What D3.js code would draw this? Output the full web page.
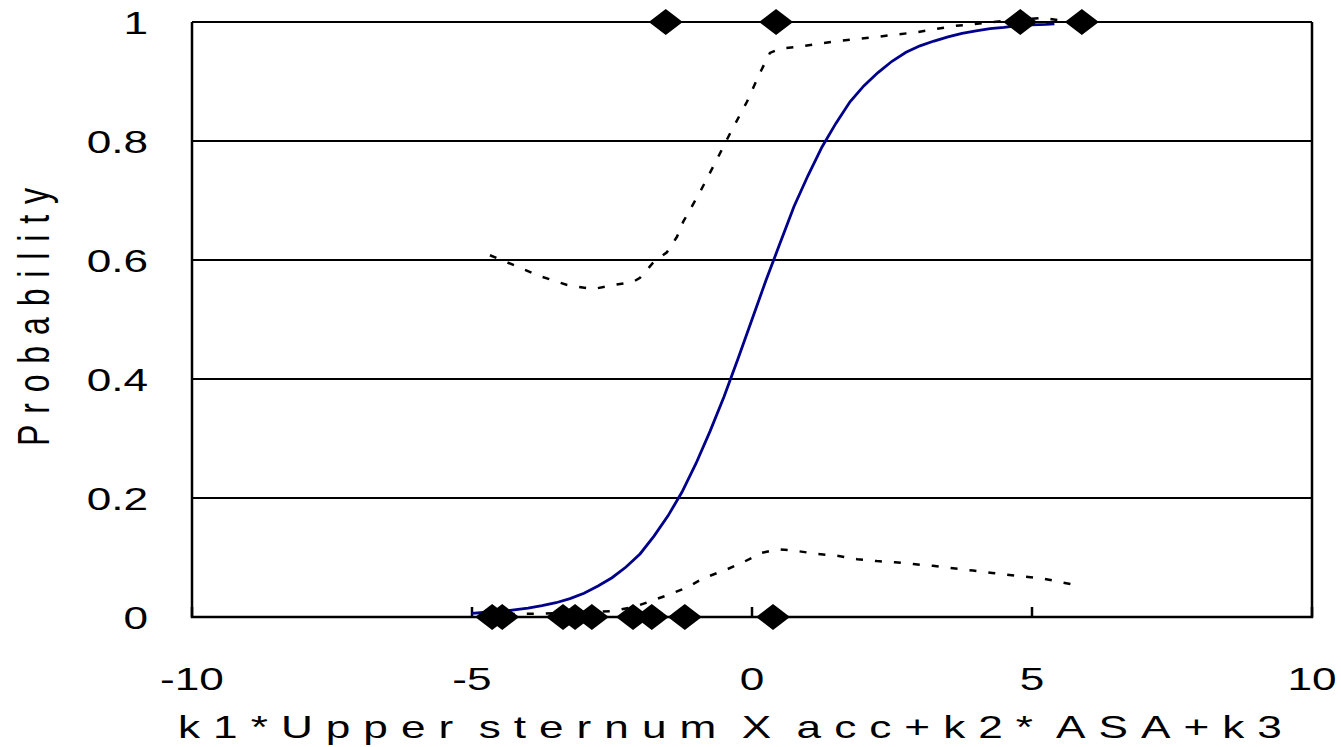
<!DOCTYPE html>
<html>
<head>
<meta charset="utf-8">
<script src="https://cdn.jsdelivr.net/npm/d3@7/dist/d3.min.js"></script>
<style>
body { margin: 0; background: #fff; }
text { font-family: "Liberation Sans", Arial, sans-serif; fill: #000; }
</style>
</head>
<body>
<svg class="chart" width="1341" height="747"></svg>
<script>
// fitted probability curve
var fitX = [-5,-4.75,-4.5,-4.25,-4,-3.75,-3.5,-3.25,-3,-2.75,-2.5,-2.25,-2,-1.75,-1.5,-1.25,-1,-0.75,-0.5,-0.25,0,0.25,0.5,0.75,1,1.25,1.5,1.75,2,2.25,2.5,2.75,3,3.25,3.5,3.75,4,4.25,4.5,4.75,5,5.25,5.4];
var fitP = [0.006,0.008,0.009,0.012,0.015,0.019,0.024,0.031,0.040,0.052,0.066,0.084,0.106,0.136,0.17,0.21,0.258,0.312,0.37,0.434,0.5,0.566,0.628,0.69,0.742,0.79,0.83,0.866,0.893,0.915,0.934,0.949,0.96,0.968,0.975,0.981,0.985,0.989,0.991,0.994,0.995,0.996,0.997];

// upper confidence band
var upX = [-4.68,-4.14,-3.79,-3.3,-2.84,-2.48,-2.13,-2.0,-1.77,-1.52,-1.34,-1.23,-0.93,-0.66,-0.39,-0.09,0.14,0.32,0.5,0.8,1.52,2.23,2.95,3.59,4.3,5.18,5.54,5.85];
var upP = [0.608,0.587,0.573,0.558,0.551,0.558,0.563,0.57,0.595,0.613,0.639,0.664,0.714,0.763,0.813,0.866,0.914,0.948,0.955,0.958,0.968,0.975,0.983,0.993,1.0,1.007,1.002,1.002];

// lower confidence band
var loX = [-4.7,-4.2,-3.7,-3.0,-2.5,-2.1,-1.8,-1.5,-1.15,-0.87,-0.45,-0.18,0.18,0.46,0.8,1.16,1.52,1.88,2.23,2.55,2.88,3.23,3.59,3.95,4.29,4.73,5.18,5.54,5.82];
var loP = [0.004,0.005,0.006,0.008,0.01,0.017,0.027,0.037,0.05,0.065,0.08,0.091,0.108,0.114,0.111,0.106,0.103,0.097,0.094,0.092,0.089,0.086,0.082,0.078,0.074,0.069,0.065,0.058,0.053];

// observed outcomes
var obsX = [-1.54,0.43,4.79,5.89,-4.64,-4.46,-3.375,-3.16,-2.86,-2.125,-1.79,-1.2,0.375];
var obsY = [1,1,1,1,0,0,0,0,0,0,0,0,0];

var xTicks = [-10,-5,0,5,10];
var yTicks = [0,0.2,0.4,0.6,0.8,1];

var svg = d3.select(".chart"),
margin = {top: 22, right: 29, bottom: 130, left: 192},
width = +svg.attr("width") - margin.left - margin.right,
height = +svg.attr("height") - margin.top - margin.bottom;

var x = d3.scaleLinear().domain([-10, 10]).range([0, width]),
y = d3.scaleLinear().domain([0, 1]).range([height, 0]);

var stretch = 1.38; // text in the original is stretched sideways

var g = svg.append("g")
.attr("transform", "translate(" + margin.left + "," + margin.top + ")");

// gridlines
g.selectAll(".grid")
.data(yTicks.filter(function(d){ return d > 0; }))
.enter().append("line")
.attr("x1", 0).attr("x2", width)
.attr("y1", function(d){ return y(d); })
.attr("y2", function(d){ return y(d); })
.attr("stroke", "#000").attr("stroke-width", 2);

// frame
g.append("path")
.attr("d", "M0,0V" + height + "H" + width + "V0")
.attr("fill", "none").attr("stroke", "#000").attr("stroke-width", 2.5);

// x ticks (inside)
g.selectAll(".xtick")
.data(xTicks)
.enter().append("line")
.attr("x1", function(d){ return x(d); })
.attr("x2", function(d){ return x(d); })
.attr("y1", height).attr("y2", height - 10)
.attr("stroke", "#000").attr("stroke-width", 2.5);

g.selectAll(".xlab")
.data(xTicks)
.enter().append("text")
.attr("transform", function(d){ return "translate(" + x(d) + "," + (height + 73) + ") scale(" + stretch + ",1)"; })
.attr("text-anchor", "middle")
.attr("font-size", 32)
.text(function(d){ return d; });

g.selectAll(".ylab")
.data(yTicks)
.enter().append("text")
.attr("transform", function(d){ return "translate(-44," + y(d) + ") scale(" + stretch + ",1)"; })
.attr("dy", "0.36em")
.attr("text-anchor", "end")
.attr("font-size", 32)
.text(function(d){ return d; });

var line = d3.line()
.x(function(d){ return x(d[0]); })
.y(function(d){ return y(d[1]); });

g.append("path")
.datum(upX.map(function(v, i){ return [v, upP[i]]; }))
.attr("d", line)
.attr("fill", "none").attr("stroke", "#000").attr("stroke-width", 2.5)
.attr("stroke-dasharray", "7,12");

g.append("path")
.datum(loX.map(function(v, i){ return [v, loP[i]]; }))
.attr("d", line)
.attr("fill", "none").attr("stroke", "#000").attr("stroke-width", 2.5)
.attr("stroke-dasharray", "7,12");

g.append("path")
.datum(fitX.map(function(v, i){ return [v, fitP[i]]; }))
.attr("d", line)
.attr("fill", "none").attr("stroke", "#00008B").attr("stroke-width", 2.8);

g.selectAll(".obs")
.data(obsX)
.enter().append("path")
.attr("d", "M-17,0L0,-13L17,0L0,13Z")
.attr("transform", function(d, i){ return "translate(" + x(d) + "," + y(obsY[i]) + ")"; })
.attr("fill", "#000");

// x title: wide letter spacing, narrow word gaps
var xTitle = "k1*Upper sternum X acc+k2* ASA+k3";
var xt = svg.append("text")
.attr("transform", "translate(178,738) scale(" + stretch + ",1)")
.attr("font-size", 32)
.text(xTitle);
var w0 = xt.node().getComputedTextLength();
var nSp = xTitle.split(" ").length - 1;
var wSp = 0.278 * 32, spAdv = 9;
var L = (1156 / stretch - (w0 - nSp * wSp + nSp * spAdv)) / (xTitle.length - 1);
xt.style("letter-spacing", L + "px")
.style("word-spacing", (spAdv - wSp - L) + "px");

svg.append("text")
.attr("transform", "translate(49,317) rotate(-90) scale(1," + stretch + ")")
.attr("text-anchor", "middle")
.attr("font-size", 32)
.attr("textLength", 258)
.attr("lengthAdjust", "spacing")
.text("Probability");
</script>
</body>
</html>
